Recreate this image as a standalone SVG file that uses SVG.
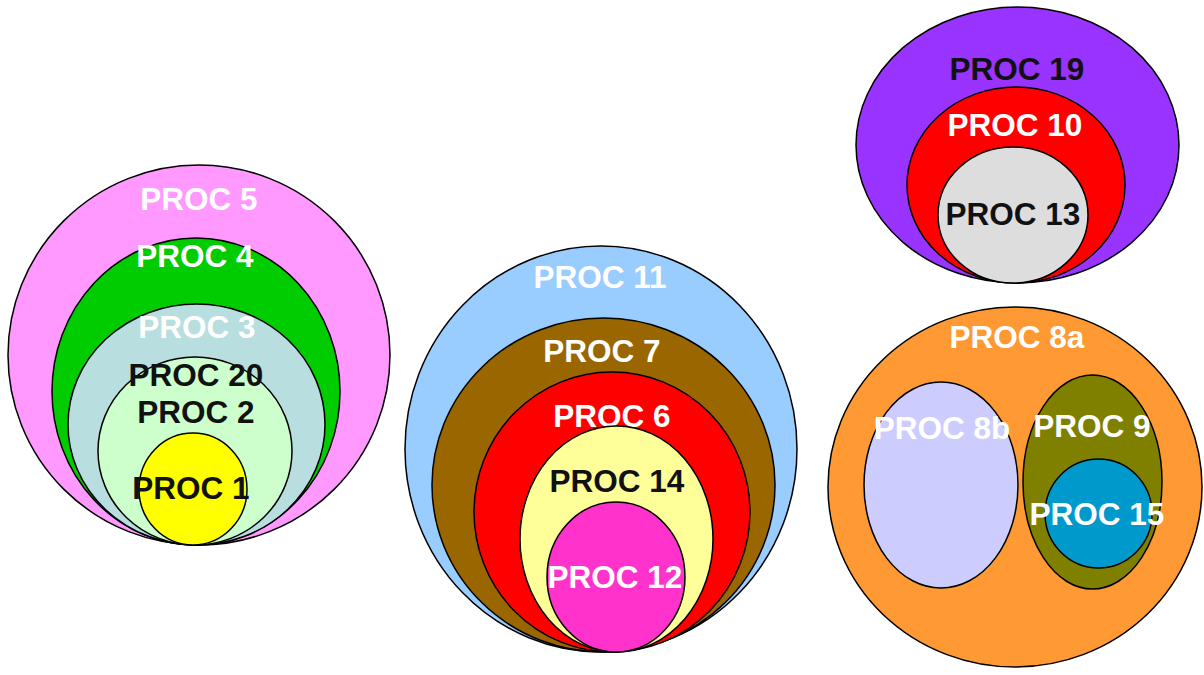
<svg xmlns="http://www.w3.org/2000/svg" width="1204" height="675" viewBox="0 0 1204 675">
<style>
ellipse{stroke:#000;stroke-width:1.5}
text{font-family:"Liberation Sans",Arial,sans-serif;font-weight:bold;font-size:31.5px;text-anchor:middle}
.w{fill:#fff}
.k{fill:#111}
</style>
<rect width="1204" height="675" fill="#fff"/>
<g id="proc5"><ellipse cx="199" cy="355" rx="191" ry="190" fill="#FF99FF"/><text class="w" x="199" y="210">PROC 5</text></g>
<g id="proc4"><ellipse cx="196" cy="391.5" rx="144" ry="153.5" fill="#00CC00"/><text class="w" x="195" y="267">PROC 4</text></g>
<g id="proc3"><ellipse cx="196.5" cy="424.5" rx="128.5" ry="120.5" fill="#B8DEE0"/><text class="w" x="197" y="338">PROC 3</text></g>
<g id="proc2"><ellipse cx="195" cy="451" rx="97" ry="94" fill="#CCFFCC"/><text class="k" x="196" y="386">PROC 20</text><text class="k" x="196" y="423">PROC 2</text></g>
<g id="proc1"><ellipse cx="193" cy="489" rx="54" ry="56" fill="#FFFF00"/><text class="k" x="191" y="499">PROC 1</text></g>

<g id="proc11"><ellipse cx="601" cy="449" rx="196" ry="203" fill="#99CCFF"/><text class="w" x="600" y="288">PROC 11</text></g>
<g id="proc7"><ellipse cx="603.5" cy="485" rx="171.5" ry="167" fill="#996600"/><text class="w" x="602" y="362">PROC 7</text></g>
<g id="proc6"><ellipse cx="612" cy="512" rx="138" ry="140" fill="#FF0000"/><text class="w" x="612" y="427">PROC 6</text></g>
<g id="proc14"><ellipse cx="616.5" cy="539" rx="96.5" ry="113" fill="#FFFF99"/><text class="k" x="617" y="492">PROC 14</text></g>
<g id="proc12"><ellipse cx="616" cy="577" rx="69" ry="75" fill="#FF33CC"/><text class="w" x="615" y="588">PROC 12</text></g>

<g id="proc19"><ellipse cx="1017.5" cy="145" rx="161.5" ry="138" fill="#9933FF"/><text class="k" x="1017" y="80">PROC 19</text></g>
<g id="proc10"><ellipse cx="1016" cy="185" rx="109" ry="98" fill="#FF0000"/><text class="w" x="1015" y="136">PROC 10</text></g>
<g id="proc13"><ellipse cx="1013" cy="215" rx="75" ry="68" fill="#DDDDDD"/><text class="k" x="1013" y="225">PROC 13</text></g>

<g id="proc8a"><ellipse cx="1015" cy="487" rx="187" ry="180" fill="#FF9933"/><text class="w" x="1017" y="348">PROC 8a</text></g>
<g id="proc8b"><ellipse cx="941" cy="485" rx="77" ry="103" fill="#CCCCFF"/><text class="w" x="942" y="439">PROC 8b</text></g>
<g id="proc9"><ellipse cx="1092.5" cy="482" rx="69.5" ry="107" fill="#808000"/><text class="w" x="1092" y="437">PROC 9</text></g>
<g id="proc15"><ellipse cx="1098.5" cy="513.5" rx="53.5" ry="54.5" fill="#0099CC"/><text class="w" x="1097" y="525">PROC 15</text></g>
<g id="connectors"></g>
</svg>
